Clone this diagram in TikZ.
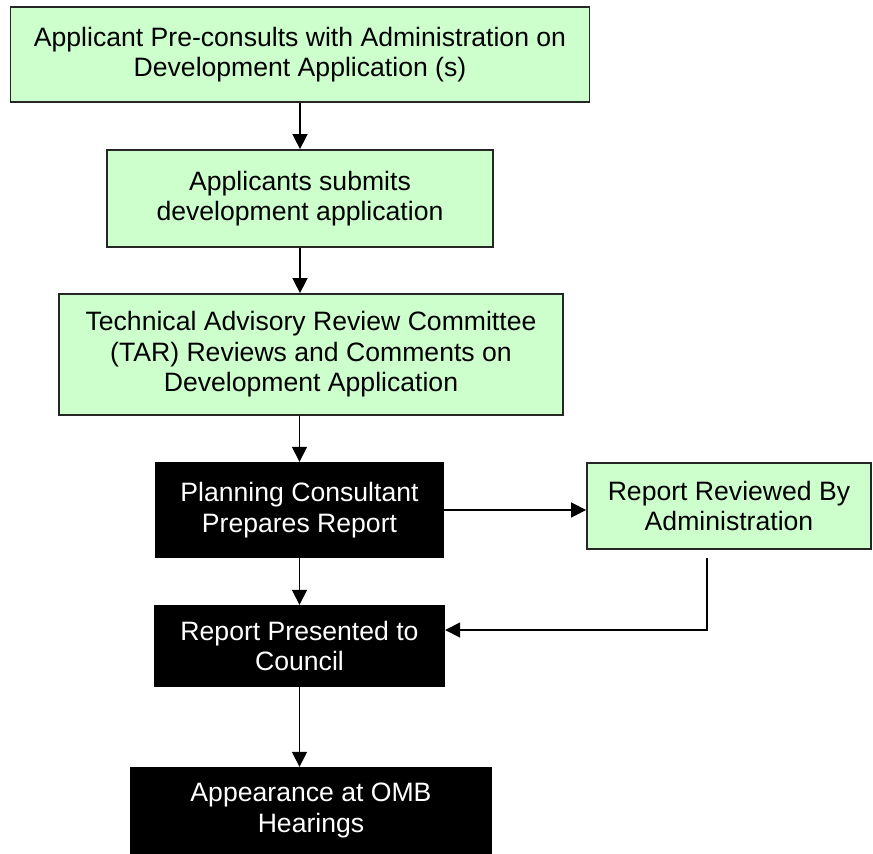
\documentclass[tikz,border=0pt]{standalone}
\usepackage{fontspec}
\setmainfont{Liberation Sans}
\usepackage{xcolor}
\usetikzlibrary{arrows.meta}
\definecolor{stepgreen}{HTML}{CCFFCC}

\begin{document}
\begin{tikzpicture}[x=1pt, y=-1pt,
		greenbox/.style={draw=black!85, line width=1.8pt, fill=stepgreen, align=center, inner sep=0pt, font=\fontsize{26.6}{30.5}\selectfont},
		blackbox/.style={fill=black, text=white, align=center, inner sep=0pt, font=\fontsize{26.6}{30.5}\selectfont},
		arr/.style={line width=1.6pt, -{Triangle[length=15pt, width=15pt]}}]
	\useasboundingbox (0,0) rectangle (873,854);
	% main column
	\node[greenbox, minimum width=579pt, minimum height=95pt] (preconsult) at (300,54.5) {Applicant Pre-consults with Administration on\\Development Application (s)};
	\node[greenbox, minimum width=386pt, minimum height=97pt] (submit) at (300,198.5) {Applicants submits\\development application};
	\node[greenbox, minimum width=504pt, minimum height=121pt] (tar) at (311,354.5) {Technical Advisory Review Committee\\(TAR) Reviews and Comments on\\Development Application};
	\node[blackbox, minimum width=289pt, minimum height=96pt] (prepare) at (299.5,510) {Planning Consultant\\Prepares Report};
	\node[greenbox, minimum width=284pt, minimum height=86pt] (reviewed) at (729,506) {Report Reviewed By\\Administration};
	\node[blackbox, minimum width=291pt, minimum height=82pt] (council) at (299.5,646) {Report Presented to\\Council};
	\node[blackbox, minimum width=362pt, minimum height=87pt] (omb) at (311,810.5) {Appearance at OMB\\Hearings};
	\coordinate (revout) at (707,558);
	% arrows
	\draw[arr] (preconsult.south) -- (submit.north);
	\draw[arr] (submit.south) -- (submit.south |- tar.north);
	\draw[arr] (prepare.north |- tar.south) -- (prepare.north);
	\draw[arr] (prepare.east) -- (prepare.east -| reviewed.west);
	\draw[arr] (prepare.south) -- (council.north);
	\draw[arr] (revout) |- ([yshift=16pt]council.east);
	\draw[arr] (council.south) -- (council.south |- omb.north);
\end{tikzpicture}
\end{document}
